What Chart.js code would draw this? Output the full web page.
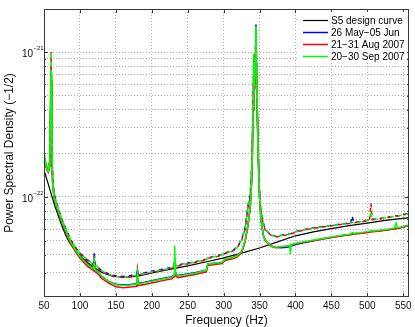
<!DOCTYPE html>
<html>
<head>
<meta charset="utf-8">
<script src="https://cdn.jsdelivr.net/npm/chart.js@4.4.1/dist/chart.umd.min.js"></script>
<style>
  body { margin: 0; background: #fff; }
  canvas { display: block; }
</style>
</head>
<body>
<canvas id="psd" width="415" height="327"></canvas>
<script>
// ===== DATA (PSD values in units of 1e-22) =====
const UNIT = 1e-22;

const xTicks = [50, 100, 150, 200, 250, 300, 350, 400, 450, 500, 550];
const yGrid = [0.3, 0.4, 0.5, 0.6, 0.7, 0.8, 0.9, 1, 2, 3, 4, 5, 6, 7, 8, 9, 10];
const yMajor = [1, 10];
const yExponents = ['\u221222', '\u221221'];

const seriesNames = ['S5 design curve', '26 May\u221205 Jun', '21\u221231 Aug 2007', '20\u221230 Sep 2007'];
const seriesColors = ['#000000', '#0000ff', '#ff0000', '#00ff00'];

// S5 design curve
const designFreq = [50, 55, 60, 65, 70, 75, 80, 85, 90, 100, 110, 120, 130, 140, 150, 160, 170, 180, 190,
  200, 225, 250, 275, 300, 325, 350, 375, 400, 425, 450, 475, 500, 525, 558];
const designPsd = [1.53, 1.27, 1.05, 0.87, 0.74, 0.63, 0.55, 0.49, 0.45, 0.395, 0.355, 0.325, 0.303, 0.29, 0.283, 0.28, 0.281, 0.285, 0.291,
  0.30, 0.317, 0.335, 0.356, 0.38, 0.41, 0.445, 0.49, 0.54, 0.575, 0.605, 0.635, 0.66, 0.69, 0.72];

// measured spectra share one frequency grid
const measFreq = [
  50, 52, 54, 56, 58, 59, 60, 61, 62, 64, 67, 70,
  75, 80, 87, 95, 100, 105, 110, 115, 119, 120, 121, 125,
  130, 140, 150, 160, 170, 179, 180, 181, 190, 200, 215, 228,
  231, 232, 233, 236, 245, 260, 276, 278, 290, 298, 302, 310,
  318, 325, 330, 334, 337, 339, 340, 341, 342, 343, 344, 345,
  346, 347, 348, 350, 352, 355, 358, 362, 366, 372, 380, 388,
  392, 393, 394, 400, 410, 425, 440, 455, 470, 477, 479, 481,
  490, 500, 503, 505, 507, 515, 530, 538, 540, 542, 550, 558];

// 26 May - 05 Jun
const blueDashed = [
  1.95, 1.75, 1.62, 1.55, 1.75, 4.0, 8.0, 2.4, 1.3, 1.06, 0.93, 0.83,
  0.7, 0.61, 0.51, 0.44, 0.41, 0.39, 0.37, 0.355, 0.345, 0.42, 0.34, 0.33,
  0.31, 0.295, 0.285, 0.283, 0.287, 0.292, 0.32, 0.295, 0.3, 0.307, 0.317, 0.327,
  0.335, 0.37, 0.34, 0.338, 0.347, 0.357, 0.372, 0.382, 0.392, 0.402, 0.412, 0.422,
  0.445, 0.51, 0.62, 0.88, 1.05, 1.6, 2.4, 5.0, 9.0, 6.0, 9.0, 15.5,
  7.0, 4.0, 2.2, 1.1, 0.8, 0.67, 0.6, 0.57, 0.55, 0.535, 0.545, 0.553,
  0.557, 0.558, 0.56, 0.578, 0.592, 0.612, 0.627, 0.642, 0.657, 0.662, 0.74, 0.667,
  0.677, 0.69, 0.692, 0.7, 0.702, 0.707, 0.727, 0.737, 0.742, 0.742, 0.757, 0.772];
const blueSolid = [
  1.9, 1.7, 1.55, 1.5, 1.65, 3.2, 6.0, 2.1, 1.25, 1.0, 0.9, 0.8,
  0.68, 0.59, 0.49, 0.42, 0.39, 0.365, 0.345, 0.33, 0.32, 0.38, 0.315, 0.305,
  0.285, 0.262, 0.25, 0.247, 0.249, 0.252, 0.28, 0.254, 0.258, 0.264, 0.274, 0.282,
  0.29, 0.33, 0.3, 0.287, 0.292, 0.3, 0.313, 0.345, 0.35, 0.355, 0.372, 0.378,
  0.39, 0.42, 0.5, 0.65, 0.85, 1.3, 2.0, 4.0, 8.0, 5.5, 8.0, 14,
  6.0, 3.5, 2.0, 1.0, 0.7, 0.55, 0.5, 0.48, 0.46, 0.45, 0.447, 0.45,
  0.455, 0.45, 0.458, 0.47, 0.482, 0.5, 0.517, 0.532, 0.547, 0.552, 0.557, 0.557,
  0.562, 0.572, 0.575, 0.577, 0.577, 0.582, 0.597, 0.607, 0.607, 0.609, 0.622, 0.637];

// 21 - 31 Aug 2007
const redDashed = [
  2.0, 1.72, 1.6, 1.55, 1.8, 4.5, 10, 2.6, 1.32, 1.05, 0.92, 0.82,
  0.69, 0.6, 0.505, 0.435, 0.405, 0.385, 0.365, 0.35, 0.34, 0.39, 0.335, 0.325,
  0.305, 0.29, 0.28, 0.278, 0.282, 0.287, 0.32, 0.29, 0.295, 0.302, 0.312, 0.322,
  0.332, 0.36, 0.337, 0.333, 0.343, 0.353, 0.368, 0.378, 0.388, 0.398, 0.408, 0.418,
  0.44, 0.5, 0.6, 0.85, 1.0, 1.55, 2.5, 4.8, 9.5, 6.0, 8.5, 13,
  6.5, 3.8, 2.1, 1.05, 0.78, 0.65, 0.59, 0.565, 0.545, 0.53, 0.538, 0.548,
  0.552, 0.553, 0.556, 0.572, 0.588, 0.608, 0.623, 0.638, 0.653, 0.658, 0.664, 0.662,
  0.672, 0.686, 0.688, 0.9, 0.697, 0.703, 0.722, 0.733, 0.737, 0.738, 0.752, 0.768];
const redSolid = [
  1.88, 1.68, 1.55, 1.48, 1.62, 3.4, 6.5, 2.2, 1.24, 0.99, 0.89, 0.79,
  0.67, 0.58, 0.48, 0.41, 0.38, 0.355, 0.335, 0.32, 0.31, 0.34, 0.305, 0.295,
  0.275, 0.255, 0.24, 0.237, 0.239, 0.242, 0.27, 0.245, 0.249, 0.255, 0.265, 0.273,
  0.282, 0.33, 0.29, 0.278, 0.283, 0.292, 0.305, 0.337, 0.343, 0.348, 0.366, 0.372,
  0.383, 0.41, 0.49, 0.64, 0.84, 1.3, 2.0, 4.0, 8.0, 5.5, 8.0, 13.5,
  6.0, 3.5, 2.0, 1.0, 0.7, 0.55, 0.5, 0.475, 0.457, 0.447, 0.452, 0.457,
  0.46, 0.461, 0.465, 0.475, 0.485, 0.5, 0.515, 0.53, 0.545, 0.55, 0.555, 0.555,
  0.56, 0.57, 0.572, 0.575, 0.575, 0.58, 0.594, 0.604, 0.605, 0.606, 0.62, 0.635];

// 20 - 30 Sep 2007
const greenDashed = [
  2.1, 1.78, 1.63, 1.57, 1.85, 4.8, 10, 2.5, 1.3, 1.06, 0.93, 0.83,
  0.7, 0.61, 0.51, 0.44, 0.41, 0.39, 0.37, 0.355, 0.345, 0.37, 0.34, 0.33,
  0.31, 0.293, 0.283, 0.28, 0.284, 0.289, 0.31, 0.292, 0.297, 0.304, 0.314, 0.324,
  0.334, 0.38, 0.34, 0.335, 0.345, 0.355, 0.37, 0.38, 0.39, 0.4, 0.41, 0.42,
  0.443, 0.505, 0.61, 0.87, 1.03, 1.6, 2.5, 5.2, 9.8, 6.2, 9.0, 15,
  7.2, 4.0, 2.2, 1.08, 0.8, 0.66, 0.6, 0.568, 0.548, 0.533, 0.542, 0.55,
  0.555, 0.556, 0.558, 0.575, 0.59, 0.61, 0.625, 0.64, 0.655, 0.66, 0.67, 0.664,
  0.675, 0.688, 0.69, 0.8, 0.7, 0.705, 0.725, 0.735, 0.74, 0.74, 0.755, 0.77];
const greenSolid = [
  1.95, 1.72, 1.57, 1.5, 1.65, 3.5, 7.0, 2.2, 1.25, 1.0, 0.9, 0.8,
  0.68, 0.59, 0.49, 0.42, 0.39, 0.365, 0.345, 0.33, 0.32, 0.35, 0.315, 0.305,
  0.285, 0.262, 0.248, 0.245, 0.247, 0.25, 0.3, 0.252, 0.256, 0.262, 0.272, 0.28,
  0.29, 0.46, 0.3, 0.285, 0.29, 0.298, 0.312, 0.345, 0.35, 0.355, 0.375, 0.38,
  0.39, 0.42, 0.5, 0.65, 0.85, 1.3, 2.0, 4.2, 8.5, 5.8, 8.5, 15,
  6.2, 3.6, 2.0, 1.0, 0.7, 0.55, 0.5, 0.48, 0.46, 0.45, 0.455, 0.46,
  0.465, 0.40, 0.47, 0.48, 0.49, 0.505, 0.52, 0.535, 0.55, 0.555, 0.57, 0.562,
  0.567, 0.577, 0.58, 0.582, 0.582, 0.587, 0.602, 0.612, 0.66, 0.614, 0.627, 0.642];

// ===== HELPERS =====
const FONT = "'Liberation Sans', Arial, sans-serif";
Chart.defaults.font.family = FONT;

function measured(values, color, dashed, dashOffset) {
    return {
        data: measFreq.map((f, i) => ({ x: f, y: values[i] * UNIT })),
        borderColor: color,
        borderWidth: 1.5,
        borderDash: dashed ? [4, 4] : [],
        borderDashOffset: dashOffset || 0,
        pointRadius: 0,
        tension: 0,
        fill: false
    };
}

// ===== FRAME, TICK MARKS, LEGEND, Y LABELS =====
const framePlugin = {
    id: 'frame',
    afterDatasetsDraw(chart) {
        const { ctx, chartArea: a, scales: { x, y } } = chart;
        ctx.save();
        ctx.strokeStyle = '#3a3a3a';
        ctx.lineWidth = 1;

        // tick marks on all four sides, pointing inward
        ctx.beginPath();
        xTicks.forEach(v => {
            const px = Math.round(x.getPixelForValue(v)) + 0.5;
            ctx.moveTo(px, a.bottom); ctx.lineTo(px, a.bottom - 4);
            ctx.moveTo(px, a.top); ctx.lineTo(px, a.top + 4);
        });
        yGrid.forEach(v => {
            const py = Math.round(y.getPixelForValue(v * UNIT)) + 0.5;
            const len = yMajor.includes(v) ? 4 : 2;
            ctx.moveTo(a.left, py); ctx.lineTo(a.left + len, py);
            ctx.moveTo(a.right, py); ctx.lineTo(a.right - len, py);
        });
        ctx.stroke();

        // legend box inside the top right corner
        const lw = 108, lh = 51;
        const lx = a.right - lw - 2, ly = a.top + 3;
        ctx.fillStyle = '#ffffff';
        ctx.fillRect(lx, ly, lw, lh);
        ctx.font = '10px ' + FONT;
        ctx.textBaseline = 'middle';
        ctx.textAlign = 'left';
        seriesNames.forEach((name, i) => {
            const ry = ly + 8.5 + i * 12;
            ctx.strokeStyle = seriesColors[i];
            ctx.lineWidth = i === 0 ? 1.2 : 1.5;
            ctx.beginPath();
            ctx.moveTo(lx + 4, ry); ctx.lineTo(lx + 29, ry);
            ctx.stroke();
            ctx.fillStyle = '#000';
            ctx.fillText(name, lx + 32, ry + 0.5);
        });

        // axes box
        ctx.strokeStyle = '#3a3a3a';
        ctx.lineWidth = 1;
        ctx.strokeRect(Math.round(a.left) + 0.5, Math.round(a.top) + 0.5,
            Math.round(a.right - a.left) - 1, Math.round(a.bottom - a.top) - 1);
        ctx.restore();
    },
    afterDraw(chart) {
        const { ctx, chartArea: a, scales: { y } } = chart;
        ctx.save();
        ctx.fillStyle = '#111';
        yMajor.forEach((v, i) => {
            const py = y.getPixelForValue(v * UNIT);
            ctx.textBaseline = 'middle';
            ctx.textAlign = 'right';
            ctx.font = '10px ' + FONT;
            ctx.fillText('10', a.left - 11, py + 2);
            ctx.textAlign = 'left';
            ctx.font = '6px ' + FONT;
            ctx.fillText(yExponents[i], a.left - 10.5, py - 3.5);
        });
        ctx.restore();
    }
};

// ===== CHART =====
new Chart(document.getElementById('psd'), {
    type: 'line',
    data: {
        datasets: [
            measured(greenDashed, '#00ff00', true, 5.3),
            measured(greenSolid, '#00ff00', false),
            measured(redDashed, '#ff0000', true, 2.7),
            measured(redSolid, '#ff0000', false),
            measured(blueDashed, '#0000ff', true, 0),
            measured(blueSolid, '#0000ff', false),
            {
                data: designFreq.map((f, i) => ({ x: f, y: designPsd[i] * UNIT })),
                borderColor: '#000000',
                borderWidth: 1.2,
                pointRadius: 0,
                tension: 0,
                fill: false
            }
        ]
    },
    options: {
        responsive: false,
        animation: false,
        devicePixelRatio: 1,
        layout: { padding: { top: 9, right: 6, left: 0, bottom: 0 } },
        plugins: {
            legend: { display: false },
            tooltip: { enabled: false }
        },
        scales: {
            x: {
                type: 'linear',
                min: 50,
                max: 558,
                afterBuildTicks: s => { s.ticks = xTicks.map(v => ({ value: v })); },
                afterFit: s => { s.height = 30; },
                ticks: { autoSkip: false, maxRotation: 0, padding: 3, color: '#111', font: { size: 10 } },
                grid: { color: '#b0b0b0', drawTicks: false },
                border: { display: false, dash: [1, 2] },
                title: {
                    display: true,
                    text: 'Frequency (Hz)',
                    color: '#111',
                    font: { size: 12, lineHeight: 1 },
                    padding: { top: 0, bottom: 0 }
                }
            },
            y: {
                type: 'logarithmic',
                min: 2.043e-23,
                max: 1.98e-21,
                afterBuildTicks: s => { s.ticks = yGrid.map(v => ({ value: v * UNIT })); },
                afterFit: s => { s.width = 44; },
                ticks: { display: false },
                grid: { color: '#b0b0b0', drawTicks: false },
                border: { display: false, dash: [1, 2] },
                title: {
                    display: true,
                    text: 'Power Spectral Density (\u22121/2)',
                    color: '#111',
                    font: { size: 12, lineHeight: 1 },
                    padding: { top: 4, bottom: 0 }
                }
            }
        }
    },
    plugins: [framePlugin]
});
</script>
</body>
</html>
